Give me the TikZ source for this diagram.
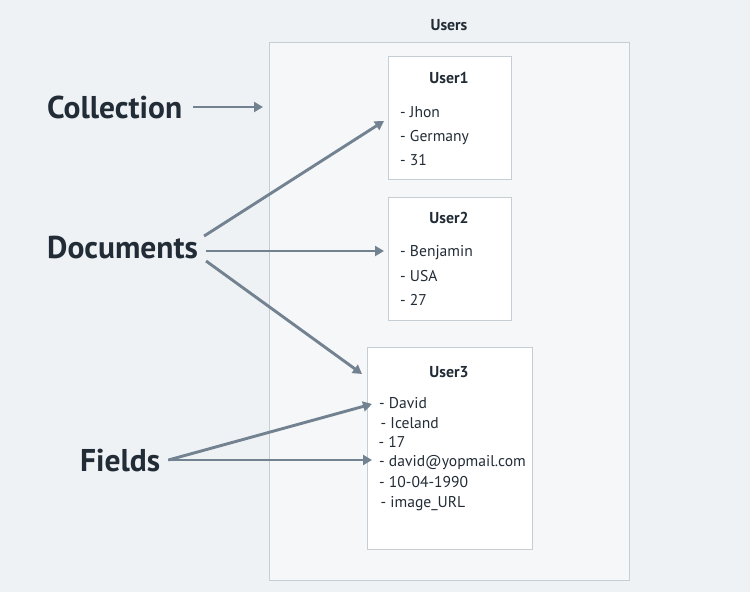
\documentclass[tikz,border=0pt]{standalone}
\usepackage{fontspec}
\setmainfont{PT Sans}
\usetikzlibrary{arrows.meta}
\definecolor{bg}{HTML}{EFF2F5}
\definecolor{panel}{HTML}{F5F7F9}
\definecolor{edge}{HTML}{C5CDD5}
\definecolor{ink}{HTML}{222C36}
\definecolor{arr}{HTML}{738290}
\begin{document}
\begin{tikzpicture}[x=1pt,y=-1pt,
 box/.style={draw=edge,line width=1.3pt,fill=white,inner sep=0,anchor=north west},
 big/.style={font=\bfseries\fontsize{31.5}{33}\selectfont,text=ink,inner sep=0,anchor=base west},
 ttl/.style={font=\bfseries\fontsize{15.8}{17}\selectfont,text=ink,inner sep=0,anchor=base},
 item/.style={font=\fontsize{15.6}{17}\selectfont,text=ink,inner sep=0,anchor=base west},
 conn/.style={draw=arr,line width=2.9pt,-{Triangle[length=9pt,width=10pt]}}]
\fill[bg] (0,0) rectangle (750,592);
\useasboundingbox (0,0) rectangle (750,592);
% collection panel
\node[box,fill=panel,minimum width=360pt,minimum height=538pt] (coll) at (269,42) {};
\node[ttl] (users) at (449,30) {Users};
% documents
\node[box,minimum width=123pt,minimum height=123pt] (u1) at (388,56) {};
\node[box,minimum width=123pt,minimum height=123pt] (u2) at (388,197) {};
\node[box,minimum width=165pt,minimum height=202pt] (u3) at (367,347) {};
\node[ttl] (u1t) at (449,83) {User1};
\node[item] (u1a) at (400,117) {- Jhon};
\node[item] (u1b) at (400,141) {- Germany};
\node[item] (u1c) at (400,165) {- 31};
\node[ttl] (u2t) at (449,223) {User2};
\node[item] (u2a) at (400,256) {- Benjamin};
\node[item] (u2b) at (400,281) {- USA};
\node[item] (u2c) at (400,305) {- 27};
\node[ttl] (u3t) at (449,377) {User3};
\node[item] (u3a) at (379,408) {- David};
\node[item] (u3b) at (380.5,428) {- Iceland};
\node[item] (u3c) at (378.5,447) {- 17};
\node[item] (u3d) at (379,466) {- david@yopmail.com};
\node[item] (u3e) at (379,487) {- 10-04-1990};
\node[item] (u3f) at (380.5,507) {- image\_URL};
% big labels
\node[big] (col) at (47,118) {Collection};
\node[big] (doc) at (47,258) {Documents};
\node[big] (fld) at (80,471) {Fields};
% arrow targets
\coordinate (tc) at (263,107);
\coordinate (t1) at (384,121);
\coordinate (t2) at (384,251);
\coordinate (t3) at (362,374);
\coordinate (f1) at (372,404);
\coordinate (f2) at (372,460);
\draw[conn] ([xshift=11pt]col.east |- tc) -- (tc);
\draw[conn] ([shift={(6,-11)}]doc.east) -- (t1);
\draw[conn] ([xshift=8pt]doc.east |- t2) -- (t2);
\draw[conn] ([shift={(8,14)}]doc.east) -- (t3);
\draw[conn] ([xshift=8pt]fld.east |- f2) -- (f1);
\draw[conn] ([xshift=8pt]fld.east |- f2) -- (f2);
\end{tikzpicture}
\end{document}
